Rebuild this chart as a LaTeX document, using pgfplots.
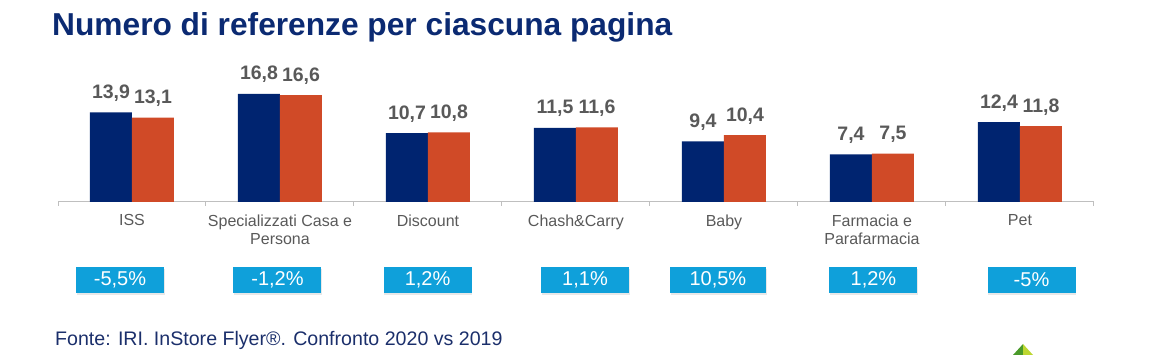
\documentclass[border=0pt]{standalone}
\usepackage{fontspec}
\setmainfont{Liberation Sans}
\usepackage{pgfplots}
\pgfplotsset{compat=1.18}
\usetikzlibrary{shadows}
\definecolor{navy}{HTML}{002470}
\definecolor{rust}{HTML}{D04A27}
\definecolor{cyanbox}{HTML}{0FA0DA}
\definecolor{lblgray}{HTML}{595959}
\definecolor{titleblue}{HTML}{0B2A72}
\definecolor{footblue}{HTML}{1B2F6B}
\definecolor{axgray}{HTML}{BFBFBF}
\definecolor{logogreen}{HTML}{4A9A2A}
\definecolor{logolime}{HTML}{BCD631}
\begin{document}
\begin{tikzpicture}[x=1pt,y=1pt,
  pbox/.style={fill=cyanbox, text=white, minimum width=88pt, minimum height=26pt, inner sep=0pt,
    font=\fontsize{20}{20}\selectfont,
    drop shadow={shadow xshift=0.6pt, shadow yshift=-1.8pt, opacity=0.18}}]
\path[use as bounding box] (0,0) rectangle (1165,-355);
\node[anchor=base west, inner sep=0pt, font=\fontsize{31.7}{32}\selectfont\bfseries, text=titleblue] at (52,-35.5) {Numero di referenze per ciascuna pagina};
\begin{axis}[
  at={(58pt,-202pt)}, anchor=south west,
  scale only axis, width=1036pt, height=128.8pt,
  xmin=-0.5, xmax=6.5, ymin=0, ymax=20,
  axis y line=none, axis x line*=bottom,
  x axis line style={axgray, line width=1pt},
  xtick={0,...,6},
  xticklabels={ISS, {Specializzati Casa e\\Persona}, Discount, Chash\&Carry, Baby, {Farmacia e\\Parafarmacia}, Pet},
  major tick length=0pt,
  minor xtick={-0.5,0.5,...,6.5},
  minor tick length=4pt, tick align=outside,
  tick style={axgray, line width=1pt},
  xticklabel style={align=center, font=\fontsize{16}{18.5}\selectfont, text=lblgray, inner sep=0pt, yshift=-12.5pt},
  ybar, bar width=42pt,
  nodes near coords={\pgfmathprintnumber[fixed,fixed zerofill,precision=1,use comma,assume math mode=true]{\pgfplotspointmeta}},
  nodes near coords style={font=\fontsize{19.5}{19.5}\selectfont\bfseries, text=lblgray, inner sep=0pt, anchor=base, yshift=14pt},
  clip=false,
]
\addplot[fill=navy, draw=none, bar shift=-21pt] coordinates {(0,13.9) (1,16.8) (2,10.7) (3,11.5) (4,9.4) (5,7.4) (6,12.4)};
\addplot[fill=rust, draw=none, bar shift=21pt] coordinates {(0,13.1) (1,16.6) (2,10.8) (3,11.6) (4,10.4) (5,7.5) (6,11.8)};
\node[pbox] at (axis cs:-0.081,-12.1) {-5,5\%};
\node[pbox] at (axis cs:0.983,-12.1) {-1,2\%};
\node[pbox] at (axis cs:1.997,-12.1) {1,2\%};
\node[pbox] at (axis cs:3.061,-12.1) {1,1\%};
\node[pbox, minimum width=96pt] at (axis cs:3.959,-12.1) {10,5\%};
\node[pbox] at (axis cs:5.010,-12.1) {1,2\%};
\node[pbox] at (axis cs:6.078,-12.1) {-5\%};
\end{axis}
\node[anchor=base west, inner sep=0pt, font=\fontsize{19.6}{20}\selectfont, text=footblue] at (55,-345.7) {Fonte: IRI. InStore Flyer®. Confronto 2020 vs 2019};
\fill[logogreen] (1013,-355) -- (1023,-344) -- (1023,-355) -- cycle;
\fill[logolime] (1023,-344) -- (1033,-355) -- (1023,-355) -- cycle;
\end{tikzpicture}
\end{document}
